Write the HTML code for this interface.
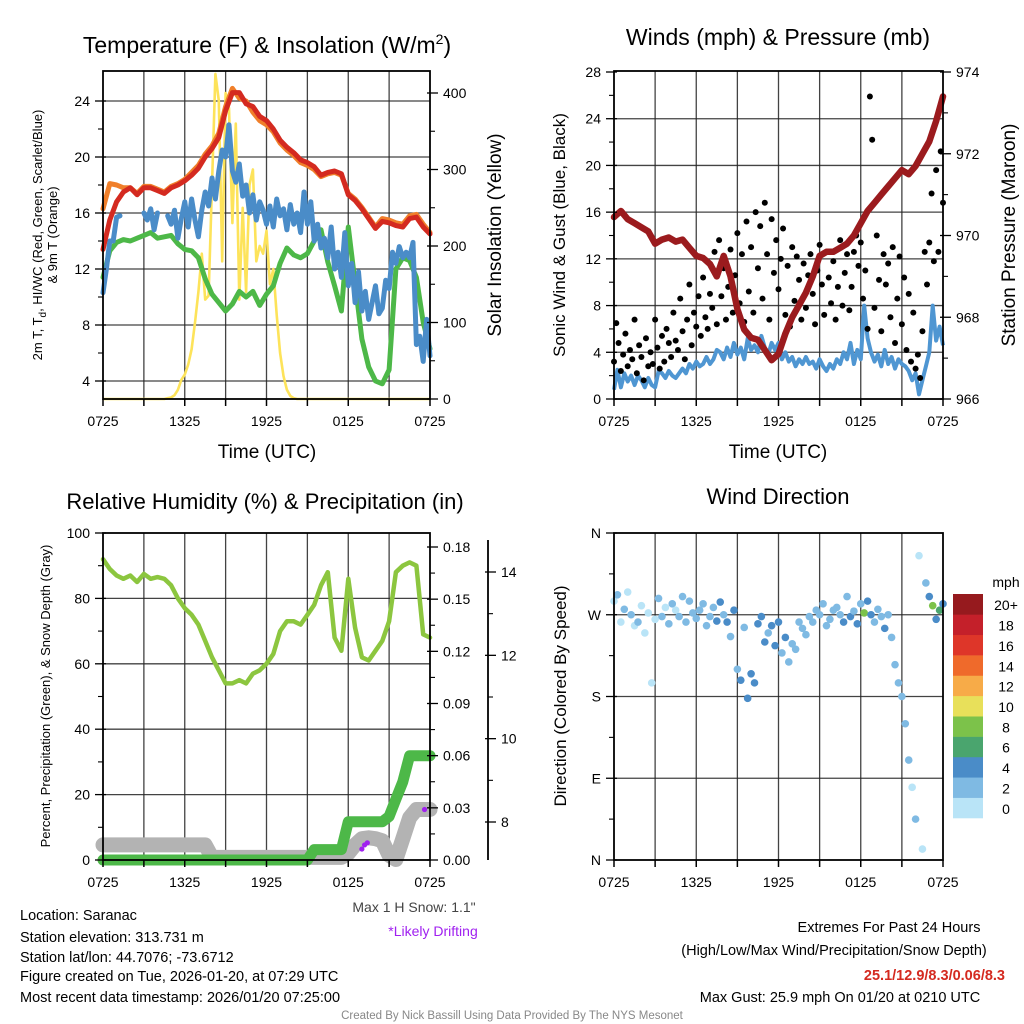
<!DOCTYPE html>
<html><head><meta charset="utf-8"><title>Mesonet Meteogram</title>
<style>
html,body{margin:0;padding:0;background:#fff;}
svg{display:block;font-family:"Liberation Sans",Arial,sans-serif;}
</style></head>
<body>
<svg id="chart" width="1024" height="1024" viewBox="0 0 1024 1024" xmlns="http://www.w3.org/2000/svg">
<rect x="0" y="0" width="1024" height="1024" fill="#fff"/>
<g id="layer"></g>
<!-- static text -->
<text x="267" y="53" font-size="23" text-anchor="middle">Temperature (F) &amp; Insolation (W/m<tspan dy="-9" font-size="14">2</tspan><tspan dy="9">)</tspan></text>
<text transform="translate(42,235) rotate(-90)" font-size="13" text-anchor="middle">2m T, T<tspan dy="4" font-size="10">d</tspan><tspan dy="-4">, HI/WC (Red, Green, Scarlet/Blue)</tspan></text>
<text transform="translate(57,235) rotate(-90)" font-size="13" text-anchor="middle">&amp; 9m T (Orange)</text>
<text transform="translate(501,235) rotate(-90)" font-size="19" text-anchor="middle">Solar Insolation (Yellow)</text>
<text x="267" y="458" font-size="19" text-anchor="middle">Time (UTC)</text>

<text x="778" y="45" font-size="23" text-anchor="middle">Winds (mph) &amp; Pressure (mb)</text>
<text transform="translate(565,235) rotate(-90)" font-size="17" text-anchor="middle">Sonic Wind &amp; Gust (Blue, Black)</text>
<text transform="translate(1015,235) rotate(-90)" font-size="19" text-anchor="middle">Station Pressure (Maroon)</text>
<text x="778" y="458" font-size="19" text-anchor="middle">Time (UTC)</text>

<text x="265" y="509" font-size="22" text-anchor="middle">Relative Humidity (%) &amp; Precipitation (in)</text>
<text transform="translate(50,696) rotate(-90)" font-size="13" text-anchor="middle">Percent, Precipitation (Green), &amp; Snow Depth (Gray)</text>
<text x="414" y="912" font-size="14" fill="#444" text-anchor="middle">Max 1 H Snow: 1.1"</text>
<text x="433" y="936" font-size="14" fill="#a020f0" text-anchor="middle">*Likely Drifting</text>

<text x="778" y="504" font-size="22" text-anchor="middle">Wind Direction</text>
<text transform="translate(566,696) rotate(-90)" font-size="17" text-anchor="middle">Direction (Colored By Speed)</text>
<text x="1006" y="587" font-size="14" text-anchor="middle">mph</text>

<g font-size="14.5">
<text x="20" y="920">Location: Saranac</text>
<text x="20" y="942">Station elevation: 313.731 m</text>
<text x="20" y="962">Station lat/lon: 44.7076; -73.6712</text>
<text x="20" y="981">Figure created on Tue, 2026-01-20, at 07:29 UTC</text>
<text x="20" y="1002">Most recent data timestamp: 2026/01/20 07:25:00</text>
</g>
<g font-size="14.5" text-anchor="middle">
<text x="889" y="932">Extremes For Past 24 Hours</text>
<text x="834" y="955">(High/Low/Max Wind/Precipitation/Snow Depth)</text>
<text x="1005" y="980" text-anchor="end" fill="#d42a20" font-weight="bold">25.1/12.9/8.3/0.06/8.3</text>
<text x="840" y="1002">Max Gust: 25.9 mph On 01/20 at 0210 UTC</text>
</g>
<text x="512" y="1019" font-size="11.5" fill="#888" text-anchor="middle">Created By Nick Bassill Using Data Provided By The NYS Mesonet</text>
</svg>
<script>
// ---------- DATA ----------
const timeLabels = ["0725","1325","1925","0125","0725"];
// half-hourly (49 pts, hours 0..24)
const temp2m = [13.4,15.5,16.8,17.5,17.8,17.3,17.8,17.8,17.6,17.4,17.8,18.0,18.3,18.7,19.2,20.0,20.6,21.4,23.3,24.6,24.6,23.8,23.6,22.9,22.6,22.0,21.2,20.7,20.3,19.8,19.6,19.3,18.7,18.9,19.0,18.8,17.3,16.9,16.3,15.6,14.9,15.4,15.3,15.1,15.0,15.6,15.7,15.0,14.5];
const temp9m = [16.3,18.1,18.0,17.8,17.8,17.4,17.9,17.9,17.7,17.5,17.9,18.1,18.4,18.9,19.4,20.2,20.8,21.7,23.6,24.9,24.2,24.0,23.2,22.6,22.3,21.8,21.0,20.5,20.1,19.6,19.4,19.1,18.6,18.8,18.9,18.7,17.4,17.0,16.4,15.7,15.0,15.6,15.5,15.3,15.2,15.8,15.9,15.2,14.6];
const dewpoint = [11.4,13.3,13.9,14.1,14.0,14.2,14.4,14.6,14.2,14.3,14.4,13.8,13.4,13.3,12.8,11.3,10.2,9.6,9.0,9.5,10.4,10.0,10.4,9.4,10.2,10.8,12.4,13.5,13.0,12.8,13.1,14.0,14.8,12.5,10.8,9.0,15.0,11.0,7.0,5.0,4.0,3.8,4.8,12.0,12.8,12.6,11.4,8.2,6.3];
// quarter-hourly (97 pts)
const windChill = [10.3,12,14,14,15.7,15.8,null,null,null,null,null,null,16,15.5,16.3,14.8,16,null,null,15.8,15.2,16.2,14.2,15.6,16.8,15.0,17.0,15.5,14.3,16.2,17.5,16.5,18.5,17.0,19.0,20.5,20.0,22.3,19.0,18.2,19.5,17.2,18.0,16.0,17.3,15.5,16.8,16.2,15.2,16.5,15.0,17.0,15.8,16.3,14.8,16.6,15.2,16.0,14.6,17.5,15.2,16.8,14.0,15.2,13.5,14.2,12.8,15.0,12.0,13.2,11.4,14.6,10.8,12.4,9.6,11.8,9.0,10.4,8.4,9.6,10.8,8.8,9.2,11.2,10.6,13.2,12.4,13.6,12.8,13.2,12.8,13.9,6.6,7.2,5.4,8.4,5.8];
const solar = [0,0,0,0,0,0,0,0,0,0,0,0,0,0,0,0,0,0,0,1,2,5,12,25,32,45,65,100,140,190,130,135,280,425,390,180,400,380,230,360,130,250,140,280,300,180,200,190,220,150,170,110,60,30,12,4,1,0,0,0,0,0,0,0,0,0,0,0,0,0,0,0,0,0,0,0,0,0,0,0,0,0,0,0,0,0,0,0,0,0,0,0,0,0,0,0,0];
const windSpeed = [0.8,2.5,1.0,2.2,1.5,2.0,1.2,2.0,1.6,1.0,1.8,1.2,1.0,2.4,2.2,1.8,2.4,2.0,1.8,2.2,2.6,2.2,3.0,2.6,3.2,2.8,3.0,3.6,3.0,3.4,4.2,4.0,3.4,4.4,3.6,4.8,3.8,4.4,3.4,5.2,4.2,4.6,4.0,5.4,4.4,3.8,4.8,4.2,4.8,3.4,4.0,3.2,3.6,2.8,3.4,3.0,3.6,3.0,3.2,2.6,3.4,2.8,2.4,3.0,2.6,3.4,3.0,4.0,3.4,4.8,3.0,4.2,3.4,8.0,5.2,4.0,3.2,3.8,2.8,4.2,3.0,3.6,2.6,3.4,3.0,2.8,2.4,1.6,2.2,0.4,1.6,2.8,4.0,8.0,5.0,6.2,4.6];
// 10-minute gusts (145 pts)
const windGust = [3.2,6.5,4.8,2.4,3.8,5.6, 2.8,4.2,3.4,6.8,2.2,4.6, 3.6,1.6,5.2,2.8,4.0,3.0, 6.8,4.4,2.6,5.4,3.2,6.0, 4.8,3.6,7.4,5.0,4.2,8.6, 5.8,3.4,6.8,9.8,4.6,7.4, 6.2,8.8,5.4,10.4,7.0,6.0, 9.0,7.8,12.6,6.4,13.6,8.8, 11.2,6.8,9.6,12.8,7.4,10.6, 14.2,8.2,12.4,6.6,15.2,9.2, 13.0,7.4,16.0,11.2,14.8,8.6, 16.8,12.4,6.8,15.4,10.8,13.6, 9.4,12.0,14.6,7.2,11.4,6.2, 13.0,8.4,12.2,10.2,6.8,11.6, 7.8,10.6,12.4,9.0,6.4,11.0, 13.2,9.8,7.2,12.6,10.4,8.2, 11.8,6.8,9.6,13.6,8.0,10.8, 12.4,7.6,9.6,12.6,14.0,11.4, 13.4,8.6,11.0,6.0,25.9,22.2, 7.8,14.0,10.2,5.8,12.4,9.8, 11.6,7.0,13.0,4.8,8.6,12.2, 6.4,10.4,4.2,9.0,3.2,7.4, 2.6,3.8,1.8,5.8,12.6,9.8, 13.4,17.6,11.8,19.6,12.6,21.2, 16.8];
const pressure = [970.45,970.6,970.4,970.3,970.2,970.1,969.8,969.9,969.95,969.85,969.9,969.7,969.5,969.45,969.3,969.0,969.5,969.0,968.2,967.7,967.5,967.45,967.2,966.95,967.1,967.6,968.0,968.3,968.6,969.0,969.5,969.6,969.6,969.7,969.8,970.0,970.3,970.6,970.8,971.0,971.2,971.4,971.6,971.5,971.7,972.0,972.3,972.8,973.4];
const relHum = [92,89,87,86,87,85,87.5,86,86.5,86,84,80,77,75,72,67,62,58,54,54,55,54,57,58,60,63,70,73,73,72,75,78,84,88,68,64,86,71,62,61,64,67,73,88,90,91,90,69,68];
const precip = [0,0,0,0,0,0,0,0,0,0,0,0,0,0,0,0,0,0,0,0,0,0,0,0,0,0,0,0,0,0,0,0.006,0.006,0.006,0.006,0.006,0.022,0.022,0.022,0.022,0.022,0.022,0.025,0.035,0.045,0.06,0.06,0.06,0.06];
const snowDepth = [7.45,7.45,7.45,7.45,7.45,7.45,7.45,7.45,7.45,7.45,7.45,7.45,7.45,7.45,7.45,7.45,7.15,7.15,7.15,7.15,7.15,7.15,7.15,7.15,7.15,7.15,7.15,7.15,7.15,7.15,7.15,7.15,7.15,7.15,7.15,7.15,7.25,7.45,7.6,7.62,7.6,7.55,7.2,7.1,7.6,8.1,8.3,8.3,8.3];
const driftTimes = [19.0,19.2,19.4,23.6];
const driftSnow = [7.35,7.45,7.5,8.3];
// quarter-hourly wind direction (deg, 97 pts), colored by windSpeed
const windDir = [285,292,262,276,295,270,258,262,280,250,272,195,265,288,268,278,260,282,275,268,290,262,285,272,266,275,282,258,268,278,263,284,270,262,246,275,210,198,256,178,205,195,260,268,240,250,258,236,262,228,245,218,238,232,262,255,248,268,262,275,270,282,258,265,275,278,270,262,290,268,274,260,282,272,285,270,262,276,268,255,270,245,215,195,180,150,110,80,45,335,12,305,290,280,265,275,282];
const tempTicks = [4,8,12,16,20,24];
const solarTicks = [0,100,200,300,400];
const windTicks = [0,4,8,12,16,20,24,28];
const presTicks = [966,968,970,972,974];
const rhTicks = [0,20,40,60,80,100];
const precipTicks = [0,0.03,0.06,0.09,0.12,0.15,0.18];
const snowTicks = [8,10,12,14];
const dirTicks = ["N","E","S","W","N"];
const speedBins = ["0","2","4","6","8","10","12","14","16","18","20+"];
const speedColors = ["#b9e4f7","#7fbae3","#4a8cc8","#4aa56e","#7cc24a","#e8e05a","#f7ab48","#ef6a2b","#de3629","#c4202a","#961a1e"];

// ---------- HELPERS ----------
const NS = "http://www.w3.org/2000/svg";
const layer = document.getElementById("layer");
function mk(tag, attrs, parent){
  const e = document.createElementNS(NS, tag);
  for (const k in attrs) e.setAttribute(k, attrs[k]);
  (parent||layer).appendChild(e);
  return e;
}
function linScale(d0,d1,r0,r1){ return v => r0 + (v-d0)/(d1-d0)*(r1-r0); }
function pathFrom(ts, vs, xs, ys){
  let d = "", pen = false;
  for (let i=0;i<vs.length && i<ts.length;i++){
    if (vs[i]===null){ pen=false; continue; }
    d += (pen?"L":"M") + xs(ts[i]).toFixed(1) + "," + ys(vs[i]).toFixed(1);
    pen = true;
  }
  return d;
}
function times(n){ const a=[]; for(let i=0;i<n;i++) a.push(i*24/(n-1)); return a; }

function frame(name, x0,y0,x1,y1, hGridVals, ys){
  const g = mk("g",{});
  
  
  const xs = linScale(0,24,x0,x1);
  for (let h=3; h<24; h+=3) mk("line",{x1:xs(h),x2:xs(h),y1:y0,y2:y1,stroke:"#222","stroke-width":1.3,"stroke-opacity":0.85},g);
  hGridVals.forEach(v=>{ const y=ys(v); if (y>y0+1 && y<y1-1) mk("line",{x1:x0,x2:x1,y1:y,y2:y,stroke:"#222","stroke-width":1.3,"stroke-opacity":0.85},g); });
  return g;
}
function border(name,x0,y0,x1,y1){
  const r = mk("rect",{x:x0,y:y0,width:x1-x0,height:y1-y0,fill:"none",stroke:"#000","stroke-width":1.8});
  
  
}
function xAxis(name,x0,x1,y1){
  const xs = linScale(0,24,x0,x1);
  const g = mk("g",{});
  
  
  for (let h=0; h<=24; h+=3) mk("line",{x1:xs(h),x2:xs(h),y1:y1,y2:y1+7,stroke:"#000","stroke-width":1.5},g);
  timeLabels.forEach((lab,i)=>{
    const t = mk("text",{x:xs(i*6),y:y1+27,"font-size":14,"text-anchor":"middle"},g);
    t.textContent = lab;
  });
}
function yAxis(name, ticks, labels, ys, x, side, minorVals){
  const g = mk("g",{});
  
  
  const dir = side==="left"?-1:1;
  ticks.forEach((v,i)=>{
    const y = ys(v);
    mk("line",{x1:x-dir*3,x2:x+dir*8,y1:y,y2:y,stroke:"#000","stroke-width":1.3},g);
    const t = mk("text",{x:x+dir*13,y:y+5,"font-size":14,"text-anchor":side==="left"?"end":"start"},g);
    t.textContent = labels[i];
  });
  (minorVals||[]).forEach(v=>{
    const y = ys(v);
    mk("line",{x1:x,x2:x+dir*5,y1:y,y2:y,stroke:"#000","stroke-width":1.1},g);
  });
}

// ---------- PANEL 1: Temperature ----------
(function(){
  const x0=103,x1=430,y0=71,y1=399;
  const xs = linScale(0,24,x0,x1);
  const ys = linScale(4,24,381,101);
  const ysol = linScale(0,400,399,93);
  frame("temp-panel",x0,y0,x1,y1,tempTicks,ys);
  const t49 = times(49), t97 = times(97);
  let p;
  p = mk("path",{d:pathFrom(t97,solar,xs,ysol),fill:"none",stroke:"#fde35a","stroke-width":2.6,"stroke-linejoin":"round"});
  
  
  p = mk("path",{d:pathFrom(t49,dewpoint,xs,ys),fill:"none",stroke:"#4db848","stroke-width":5,"stroke-linejoin":"round","stroke-linecap":"round"});
  
  
  p = mk("path",{d:pathFrom(t97,windChill,xs,ys),fill:"none",stroke:"#4a8cc8","stroke-width":5,"stroke-linejoin":"round","stroke-linecap":"round"});
  
  
  p = mk("path",{d:pathFrom(t49,temp9m,xs,ys),fill:"none",stroke:"#f07f2a","stroke-width":5,"stroke-linejoin":"round","stroke-linecap":"round"});
  
  
  p = mk("path",{d:pathFrom(t49,temp2m,xs,ys),fill:"none",stroke:"#d42a20","stroke-width":5,"stroke-linejoin":"round","stroke-linecap":"round"});
  
  
  border("temp-panel",x0,y0,x1,y1);
  xAxis("temp-panel",x0,x1,y1);
  yAxis("temp-left-axis",tempTicks,tempTicks.map(String),ys,x0,"left",[6,10,14,18,22]);
  yAxis("solar-right-axis",solarTicks,solarTicks.map(String),ysol,x1,"right",[50,150,250,350]);
})();

// ---------- PANEL 2: Winds ----------
(function(){
  const x0=614,x1=943,y0=71,y1=399;
  const xs = linScale(0,24,x0,x1);
  const ys = linScale(0,28,399,72);
  const yp = linScale(966,974,399,72);
  frame("wind-panel",x0,y0,x1,y1,windTicks,ys);
  const t49 = times(49), t97 = times(97), t145 = times(145);
  let p = mk("path",{d:pathFrom(t97,windSpeed,xs,ys),fill:"none",stroke:"#4f96d2","stroke-width":4,"stroke-linejoin":"round"});
  
  
  const gg = mk("g",{});
  
  
  windGust.forEach((v,i)=>{
    if (i >= t145.length) return;
    const c = mk("circle",{cx:xs(t145[i]),cy:ys(v),r:3,fill:"#000"},gg);
    
    
  });
  p = mk("path",{d:pathFrom(t49,pressure,xs,yp),fill:"none",stroke:"#9b1b1e","stroke-width":6.5,"stroke-linejoin":"round","stroke-linecap":"round"});
  
  
  border("wind-panel",x0,y0,x1,y1);
  xAxis("wind-panel",x0,x1,y1);
  yAxis("wind-left-axis",windTicks,windTicks.map(String),ys,x0,"left",[2,6,10,14,18,22,26]);
  yAxis("pressure-right-axis",presTicks,presTicks.map(String),yp,x1,"right",[967,969,971,973]);
})();

// ---------- PANEL 3: RH & Precip ----------
(function(){
  const x0=103,x1=430,y0=533,y1=860;
  const xs = linScale(0,24,x0,x1);
  const ys = linScale(0,100,860,533);
  const ypr = linScale(0,0.18,860,547);
  const ysn = linScale(8,14,822,572);
  frame("rh-panel",x0,y0,x1,y1,[20,40,60,80],ys);
  const t49 = times(49);
  let p = mk("path",{d:pathFrom(t49,snowDepth,xs,ysn),fill:"none",stroke:"#b3b3b3","stroke-width":15,"stroke-linejoin":"round","stroke-linecap":"round"});
  
  
  p = mk("path",{d:pathFrom(t49,precip,xs,ypr),fill:"none",stroke:"#4db848","stroke-width":11,"stroke-linejoin":"round","stroke-linecap":"round"});
  
  
  const dg = mk("g",{});
  
  
  driftTimes.forEach((t,i)=>{
    const c = mk("circle",{cx:xs(t),cy:ysn(driftSnow[i]),r:2.6,fill:"#a020f0"},dg);
    
    
  });
  p = mk("path",{d:pathFrom(t49,relHum,xs,ys),fill:"none",stroke:"#8cc63f","stroke-width":4.5,"stroke-linejoin":"round","stroke-linecap":"round"});
  
  
  border("rh-panel",x0,y0,x1,y1);
  xAxis("rh-panel",x0,x1,y1);
  yAxis("rh-left-axis",rhTicks,rhTicks.map(String),ys,x0,"left",[10,30,50,70,90]);
  yAxis("precip-right-axis",precipTicks,precipTicks.map(v=>v.toFixed(2)),ypr,x1,"right",[0.015,0.045,0.075,0.105,0.135,0.165]);
  const sa = mk("line",{x1:488,x2:488,y1:540,y2:860,stroke:"#000","stroke-width":1.8});
  
  
  yAxis("snow-axis",snowTicks,snowTicks.map(String),ysn,488,"right",[9,11,13]);
})();

// ---------- PANEL 4: Wind Direction ----------
(function(){
  const x0=614,x1=943,y0=533,y1=860;
  const xs = linScale(0,24,x0,x1);
  const ys = linScale(0,360,860,533);
  frame("direction-panel",x0,y0,x1,y1,[90,180,270],ys);
  const t97 = times(97);
  const dg = mk("g",{});
  
  
  windDir.forEach((d,i)=>{
    if (i >= t97.length) return;
    const s = windSpeed[i] || 0;
    const bin = Math.min(10, Math.floor(s/2));
    const c = mk("circle",{cx:xs(t97[i]),cy:ys(d),r:3.8,fill:speedColors[bin]},dg);
    
    
  });
  border("direction-panel",x0,y0,x1,y1);
  xAxis("direction-panel",x0,x1,y1);
  yAxis("direction-left-axis",[0,90,180,270,360],dirTicks,ys,x0,"left",[45,135,225,315]);
  const cb = mk("g",{});
  
  
  const bh = 224/11;
  speedBins.forEach((lab,i)=>{
    const y = 818 - (i+1)*bh;
    const r = mk("rect",{x:953,y:y,width:30,height:bh+0.3,fill:speedColors[i]},cb);
    
    
    const t = mk("text",{x:1006,y:y+bh/2+6,"font-size":14,"text-anchor":"middle"},cb);
    t.textContent = lab;
  });
})();
</script>
</body></html>
